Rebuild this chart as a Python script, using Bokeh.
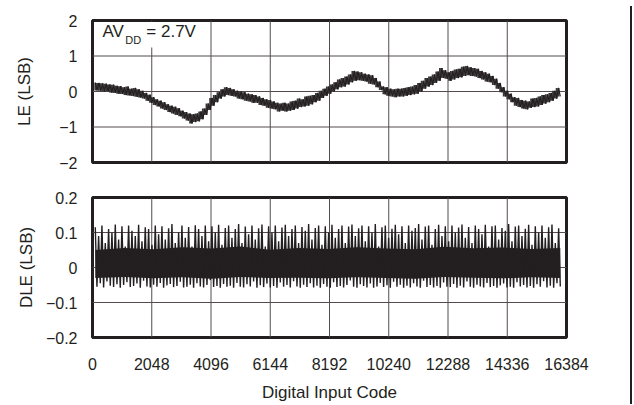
import numpy as np
from bokeh.plotting import figure
from bokeh.layouts import column
from bokeh.models import Range1d, FixedTicker, Label, BoxAnnotation, Span
from bokeh.embed import file_html
from bokeh.resources import INLINE

# ---------------- data ----------------
x_ticks = [0, 2048, 4096, 6144, 8192, 10240, 12288, 14336, 16384]
le_ticks = [-2, -1, 0, 1, 2]
le_tick_labels = {-2: "\u22122", -1: "\u22121", 0: "0", 1: "1", 2: "2"}
dle_ticks = [-0.2, -0.1, 0, 0.1, 0.2]
dle_tick_labels = {-0.2: "\u22120.2", -0.1: "\u22120.1", 0: "0", 0.1: "0.1", 0.2: "0.2"}

code_first = 96
code_last = 16170

# LE (LSB) readings, left to right
le_values = [
    0.25, 0.03, 0.24, 0.02, 0.23, 0.00, 0.22, 0.01,
    0.20, -0.03, 0.19, -0.04, 0.16, -0.06, 0.15, -0.07,
    0.12, -0.10, 0.14, -0.11, 0.08, -0.13, 0.10, -0.15,
    0.06, -0.17, 0.02, -0.20, -0.04, -0.26, -0.09, -0.32,
    -0.16, -0.38, -0.22, -0.42, -0.26, -0.48, -0.30, -0.52,
    -0.36, -0.58, -0.40, -0.62, -0.43, -0.66, -0.47, -0.70,
    -0.54, -0.76, -0.58, -0.82, -0.62, -0.90, -0.64, -0.86,
    -0.62, -0.84, -0.56, -0.78, -0.48, -0.66, -0.34, -0.52,
    -0.18, -0.40, -0.10, -0.30, -0.02, -0.20, 0.06, -0.14,
    0.12, -0.10, 0.10, -0.12, 0.06, -0.14, 0.02, -0.20,
    0.00, -0.22, -0.02, -0.26, -0.06, -0.28, -0.08, -0.32,
    -0.10, -0.32, -0.14, -0.38, -0.18, -0.40, -0.22, -0.46,
    -0.24, -0.48, -0.28, -0.50, -0.32, -0.56, -0.34, -0.54,
    -0.32, -0.56, -0.34, -0.54, -0.28, -0.52, -0.26, -0.48,
    -0.20, -0.44, -0.22, -0.42, -0.14, -0.40, -0.12, -0.36,
    -0.10, -0.30, -0.04, -0.26, 0.02, -0.18, 0.08, -0.12,
    0.14, -0.06, 0.20, 0.00, 0.26, 0.06, 0.34, 0.12,
    0.38, 0.14, 0.42, 0.20, 0.48, 0.26, 0.58, 0.30,
    0.56, 0.32, 0.54, 0.30, 0.50, 0.28, 0.48, 0.22,
    0.46, 0.20, 0.38, 0.12, 0.28, 0.04, 0.14, -0.08,
    0.12, -0.12, 0.08, -0.14, 0.06, -0.16, 0.08, -0.14,
    0.08, -0.14, 0.10, -0.12, 0.12, -0.10, 0.14, -0.08,
    0.18, -0.06, 0.24, 0.00, 0.30, 0.08, 0.38, 0.14,
    0.42, 0.18, 0.48, 0.24, 0.56, 0.30, 0.66, 0.38,
    0.60, 0.36, 0.54, 0.30, 0.58, 0.34, 0.62, 0.38,
    0.64, 0.40, 0.70, 0.44, 0.72, 0.46, 0.68, 0.44,
    0.66, 0.42, 0.64, 0.38, 0.58, 0.34, 0.54, 0.28,
    0.50, 0.26, 0.44, 0.18, 0.36, 0.08, 0.24, -0.02,
    0.12, -0.14, 0.02, -0.22, -0.06, -0.30, -0.16, -0.40,
    -0.18, -0.44, -0.24, -0.48, -0.26, -0.50, -0.28, -0.46,
    -0.20, -0.44, -0.18, -0.42, -0.14, -0.38, -0.10, -0.34,
    -0.08, -0.30, -0.04, -0.26, 0.02, -0.20, 0.10, -0.14,
]

# DLE (LSB) readings: spike peaks and troughs, left to right
dle_peaks = [
    0.115, 0.09, 0.12, 0.07, 0.11, 0.10, 0.123, 0.08, 0.118, 0.06,
    0.12, 0.105, 0.09, 0.122, 0.075, 0.115, 0.11, 0.065, 0.12, 0.095,
    0.118, 0.08, 0.112, 0.124, 0.07, 0.10, 0.12, 0.085, 0.116, 0.06,
    0.121, 0.11, 0.09, 0.12, 0.075, 0.118, 0.10, 0.122, 0.065, 0.113,
    0.12, 0.085, 0.11, 0.124, 0.07, 0.117, 0.095, 0.12, 0.08, 0.112,
    0.123, 0.06, 0.118, 0.10, 0.12, 0.075, 0.114, 0.122, 0.09, 0.11,
    0.12, 0.07, 0.116, 0.105, 0.124, 0.08, 0.113, 0.12, 0.065, 0.118,
    0.10, 0.122, 0.085, 0.11, 0.12, 0.07, 0.117, 0.123, 0.09, 0.112,
    0.12, 0.075, 0.118, 0.10, 0.124, 0.06, 0.115, 0.12, 0.085, 0.111,
    0.122, 0.095, 0.118, 0.07, 0.12, 0.105, 0.113, 0.124, 0.08, 0.117,
    0.12, 0.065, 0.11, 0.122, 0.09, 0.118, 0.075, 0.12, 0.10, 0.114,
    0.123, 0.085, 0.116, 0.07, 0.12, 0.11, 0.095, 0.122, 0.06, 0.118,
    0.12, 0.08, 0.113, 0.105, 0.124, 0.075, 0.117, 0.12, 0.09, 0.111,
    0.122, 0.065, 0.118, 0.10, 0.12, 0.085, 0.115, 0.123, 0.07, 0.112,
]
dle_troughs = [
    -0.055, -0.045, -0.057, -0.040, -0.052, -0.056, -0.048, -0.058, -0.050, -0.042,
    -0.056, -0.053, -0.046, -0.058, -0.038, -0.054, -0.057, -0.049, -0.055, -0.044,
    -0.058, -0.051, -0.047, -0.056, -0.053, -0.041, -0.057, -0.055, -0.049, -0.058,
    -0.045, -0.054, -0.057, -0.050, -0.036, -0.056, -0.053, -0.058, -0.047, -0.055,
    -0.052, -0.058, -0.044, -0.055, -0.057, -0.048, -0.054, -0.040, -0.058, -0.051,
    -0.056, -0.046, -0.057, -0.053, -0.058, -0.043, -0.055, -0.050, -0.057, -0.039,
    -0.054, -0.058, -0.049, -0.056, -0.045, -0.057, -0.052, -0.058, -0.047, -0.055,
    -0.058, -0.042, -0.056, -0.053, -0.057, -0.050, -0.037, -0.055, -0.058, -0.048,
    -0.053, -0.057, -0.046, -0.058, -0.054, -0.044, -0.056, -0.051, -0.058, -0.041,
    -0.055, -0.049, -0.058, -0.052, -0.057, -0.045, -0.054, -0.058, -0.038, -0.056,
    -0.050, -0.057, -0.053, -0.058, -0.043, -0.055, -0.056, -0.047, -0.058, -0.052,
    -0.057, -0.040, -0.055, -0.058, -0.049, -0.054, -0.057, -0.044, -0.056, -0.053,
    -0.058, -0.051, -0.046, -0.057, -0.055, -0.058, -0.042, -0.054, -0.050, -0.057,
    -0.053, -0.058, -0.048, -0.055, -0.039, -0.057, -0.052, -0.058, -0.045, -0.054,
]
# dense DLE core (where the trace is solid), left to right
dle_core_hi = [0.050, 0.056, 0.052, 0.058, 0.054, 0.060, 0.051, 0.056, 0.053,
               0.058, 0.054, 0.052, 0.059, 0.055, 0.057, 0.053, 0.056]
dle_core_lo = [-0.030, -0.027, -0.031, -0.028, -0.032, -0.027, -0.030, -0.029, -0.031,
               -0.028, -0.030, -0.032, -0.027, -0.029, -0.031, -0.028, -0.030]

# ---------------- build ----------------
le_codes = np.linspace(code_first, code_last, len(le_values))
le_arr = np.array(le_values)
dle_values = np.empty(len(dle_peaks) * 2)
dle_values[0::2] = dle_peaks
dle_values[1::2] = dle_troughs
dle_codes = np.linspace(code_first, code_last, len(dle_values))
core_codes = np.linspace(code_first, code_last, len(dle_core_hi))

FONT = "Liberation Sans"
INK = "#231f20"
GRID = "#554a4f"
W = 622


def style(p, yticks, ylabels, ylab, lab_standoff):
    p.outline_line_color = INK
    p.outline_line_width = 3
    p.outline_line_alpha = 1
    p.xgrid.visible = False
    p.ygrid.visible = False
    for t in x_ticks[1:-1]:
        p.add_layout(Span(location=t, dimension="height", line_color=GRID,
                          line_width=1, level="underlay"))
    for t in yticks[1:-1]:
        p.add_layout(Span(location=t, dimension="width", line_color=GRID,
                          line_width=1, level="underlay"))
    ax = p.yaxis[0]
    ax.ticker = FixedTicker(ticks=yticks)
    ax.major_label_overrides = ylabels
    ax.major_tick_line_color = None
    ax.minor_tick_line_color = None
    ax.axis_line_color = None
    ax.major_tick_out = 0
    ax.major_tick_in = 0
    ax.major_label_standoff = 15
    ax.major_label_text_font = FONT
    ax.major_label_text_font_size = "16px"
    ax.major_label_text_color = INK
    ax.axis_label = ylab
    ax.axis_label_text_font = FONT
    ax.axis_label_text_font_size = "17px"
    ax.axis_label_text_font_style = "normal"
    ax.axis_label_text_color = INK
    ax.axis_label_standoff = lab_standoff
    p.background_fill_color = "white"
    p.border_fill_color = "white"


p1 = figure(width=W, height=174, x_range=Range1d(0, 16384), y_range=Range1d(-2, 2),
            x_axis_location=None, output_backend="svg", toolbar_location=None,
            min_border_left=84, min_border_right=64, min_border_top=14, min_border_bottom=18)
style(p1, le_ticks, le_tick_labels, "LE (LSB)", 22)
p1.segment(x0=le_codes[:-1], y0=le_arr[:-1], x1=le_codes[:-1], y1=le_arr[1:],
           line_color="#3b3637", line_width=1.9)
p1.line(le_codes, le_values, line_color=INK, line_width=1.2)

p1.add_layout(BoxAnnotation(left=60, right=3950, bottom=1.24, top=1.96,
                            fill_color="white", fill_alpha=1, line_color=None))
p1.add_layout(Label(x=346, y=1.41, text="AV", text_font=FONT, text_font_size="17px",
                    text_color=INK))
p1.add_layout(Label(x=1130, y=1.27, text="DD", text_font=FONT, text_font_size="11px",
                    text_color=INK))
p1.add_layout(Label(x=1860, y=1.41, text="= 2.7V", text_font=FONT, text_font_size="17px",
                    text_color=INK))

p2 = figure(width=W, height=224, x_range=Range1d(0, 16384), y_range=Range1d(-0.2, 0.2),
            output_backend="svg", toolbar_location=None,
            min_border_left=84, min_border_right=64, min_border_top=17, min_border_bottom=20)
style(p2, dle_ticks, dle_tick_labels, "DLE (LSB)", 7)
xa = p2.xaxis[0]
xa.ticker = FixedTicker(ticks=x_ticks)
xa.major_tick_line_color = None
xa.minor_tick_line_color = None
xa.axis_line_color = None
xa.major_tick_out = 0
xa.major_tick_in = 0
xa.major_label_standoff = 20
xa.major_label_text_font = FONT
xa.major_label_text_font_size = "16px"
xa.major_label_text_color = INK
xa.axis_label = "Digital Input Code"
xa.axis_label_text_font = FONT
xa.axis_label_text_font_size = "17px"
xa.axis_label_text_font_style = "normal"
xa.axis_label_text_color = INK
xa.axis_label_standoff = 10
p2.varea(x=core_codes, y1=dle_core_lo, y2=dle_core_hi, fill_color=INK)
p2.line(dle_codes, dle_values, line_color=INK, line_width=1.4)

layout = column(p1, p2, spacing=0,
                styles={"border-right": "2px solid #231f20",
                        "margin-top": "6px",
                        "margin-left": "8px"})

open("out.html", "w").write(file_html(layout, INLINE))
